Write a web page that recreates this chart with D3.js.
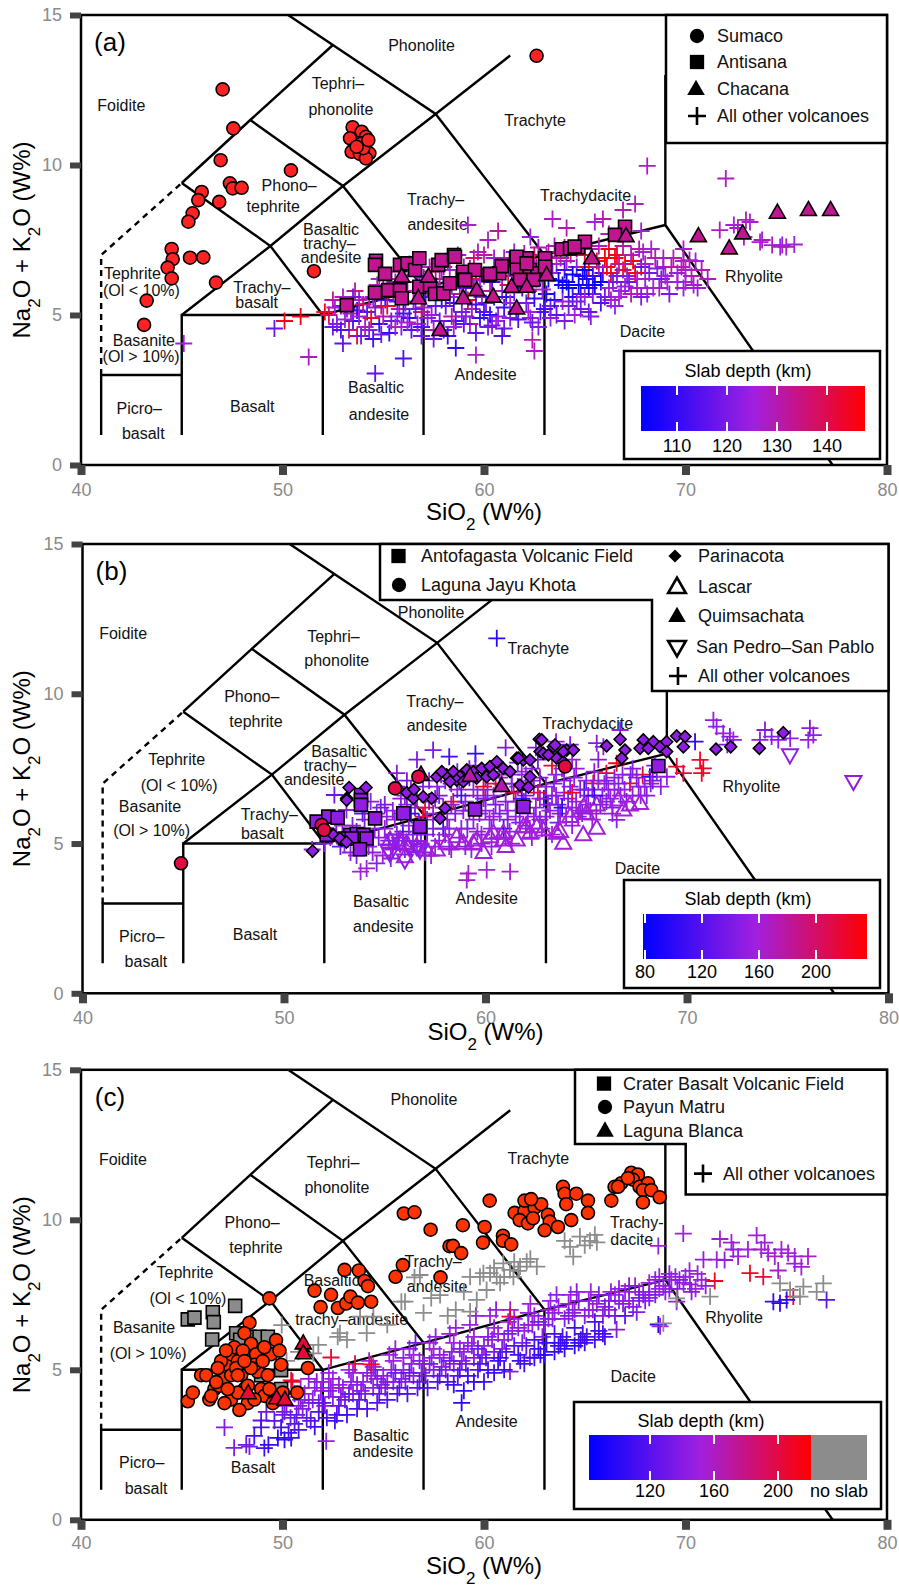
<!DOCTYPE html>
<html>
<head>
<meta charset="utf-8">
<script src="https://cdn.jsdelivr.net/npm/d3@7"></script>
<style>
  body { margin: 0; background: #fff; }
  svg { font-family: "Liberation Sans", Arial, Helvetica, sans-serif; }
</style>
</head>
<body>
<div class="chart"></div>
<script>
// ---------- data: [SiO2, Na2O+K2O, slab depth] ----------
var crossesA = [
  [45.1,4.05,126],[49.6,4.55,118],[50.1,4.8,145],[50.9,4.95,146],[51.3,3.6,128],[52.1,5.1,146],[52.5,4.6,118],[53.0,4.05,116],[53.7,4.3,142],[54.6,3.05,116],[56.0,3.55,114],
  [52.3,5.0,140],[52.7,4.7,122],[52.9,5.3,118],[52.5,5.5,132],
  [53.2,5.2,120],[53.5,4.8,112],[53.8,5.5,128],[53.3,4.5,135],[53.9,4.3,118],[53.6,5.8,132],
  [54.2,5.1,115],[54.5,5.6,125],[54.8,4.7,110],[54.3,4.5,122],[54.7,6.0,130],[54.9,5.3,138],[54.4,4.9,144],
  [55.1,5.5,112],[55.4,4.8,118],[55.6,6.1,126],[55.8,5.2,132],[55.3,4.4,110],[55.9,4.6,122],[55.5,5.8,140],[55.2,6.2,128],
  [56.1,5.4,120],[56.3,4.9,110],[56.6,5.8,130],[56.8,6.3,124],[56.4,4.5,115],[56.9,5.1,136],[56.2,6.1,118],[56.7,4.7,126],
  [57.1,5.6,112],[57.4,5.0,124],[57.6,6.2,133],[57.8,4.8,118],[57.3,6.6,128],[57.9,5.5,108],[57.5,4.5,130],[57.2,5.9,142],
  [58.1,5.3,116],[58.4,6.0,122],[58.6,4.8,112],[58.8,5.7,134],[58.3,6.5,128],[58.9,5.1,120],[58.5,4.6,126],[58.2,6.8,118],
  [59.1,5.9,114],[59.4,5.2,128],[59.6,6.4,120],[59.8,4.9,110],[59.3,4.7,132],[59.9,5.6,125],[59.5,6.9,136],[59.2,5.5,145],
  [60.1,5.4,118],[60.4,6.1,112],[60.6,4.8,126],[60.8,6.6,130],[60.3,5.0,108],[60.9,5.8,122],[60.5,6.9,124],[60.2,4.6,120],
  [61.1,5.6,110],[61.4,6.3,128],[61.6,5.1,116],[61.8,6.8,134],[61.3,4.9,122],[61.9,5.9,112],[61.5,7.1,126],[61.2,6.0,140],
  [62.1,5.4,120],[62.4,6.0,106],[62.6,6.6,130],[62.8,5.1,114],[62.3,4.9,124],[62.9,6.3,118],[62.5,7.0,138],[62.2,5.8,146],
  [63.1,5.7,108],[63.4,6.4,124],[63.6,5.0,116],[63.8,6.9,132],[63.3,5.3,120],[63.9,6.0,106],[63.5,7.3,128],[63.2,6.2,104],
  [64.1,6.1,105],[64.4,5.6,110],[64.6,6.6,122],[64.8,5.2,118],[64.3,7.0,136],[64.9,6.3,106],[64.5,5.0,126],[64.2,5.9,104],[64.7,6.0,104],
  [65.1,6.2,108],[65.4,5.7,120],[65.6,6.8,145],[65.8,5.4,114],[65.3,7.2,132],[65.9,6.4,112],[65.5,6.0,104],[65.2,6.6,146],
  [66.1,6.6,146],[66.4,6.1,118],[66.6,7.0,144],[66.8,5.8,124],[66.3,5.5,128],[66.9,6.5,140],[66.5,6.9,147],[66.2,7.2,145],
  [67.1,6.3,122],[67.4,6.8,146],[67.6,5.9,128],[67.8,6.6,116],[67.3,5.7,130],[67.9,7.1,126],
  [68.2,6.4,120],[68.5,6.9,130],[68.8,6.2,118],[68.4,5.9,126],[68.9,6.6,124],
  [69.3,6.6,132],[69.6,6.1,126],[69.9,6.8,128],[70.3,6.3,130],[70.6,5.9,124],[69.2,5.7,120],[69.9,7.2,128],[70.2,6.83,128],[70.5,6.8,126],[71.1,6.2,128],[69.9,5.9,124],
  [52.6,5.25,126],[52.9,4.5,114],[53.4,5.05,130],[53.7,5.15,110],[53.1,4.85,124],[54.0,5.35,136],[54.1,4.6,128],[54.6,5.25,120],[54.5,4.2,112],[55.0,5.85,124],
  [55.0,4.95,130],[55.7,5.45,116],[55.6,4.6,128],[55.2,5.3,142],[56.0,5.8,128],[56.0,5.05,112],[56.5,5.45,124],[56.5,6.6,130],[56.9,4.6,114],[57.0,6.25,120],
  [57.0,5.25,130],[57.6,5.3,116],[57.7,5.85,126],[57.4,6.45,136],[57.9,6.5,124],[58.0,4.5,118],[58.0,5.95,130],[58.5,5.4,110],[58.6,6.25,126],[58.7,7.0,130],
  [58.4,4.95,132],[59.0,6.6,124],[59.0,4.7,116],[59.5,5.95,118],[59.6,5.35,112],[59.7,7.1,128],[59.4,6.2,140],[60.0,6.3,126],[60.0,5.1,114],[60.0,7.0,132],
  [60.5,5.6,110],[60.6,6.5,136],[60.7,4.95,124],[61.0,6.9,128],[61.0,5.25,112],[61.2,6.6,122],[61.5,5.75,120],[61.7,6.55,124],[61.7,4.85,114],[62.0,7.05,130],
  [62.0,6.25,116],[62.2,5.1,126],[62.5,5.55,110],[62.6,6.2,122],[62.7,7.25,128],[63.0,6.6,118],[63.0,5.2,112],[63.2,7.1,132],[63.5,5.5,108],[63.6,6.7,126],
  [63.7,6.15,104],[64.0,6.5,112],[64.0,7.25,130],[64.2,5.3,120],[64.4,6.35,104],[64.6,7.2,134],[64.8,5.7,114],[65.0,6.5,104],[65.0,7.0,142],[65.2,5.9,106],
  [65.4,6.3,110],[65.7,7.3,128],[65.8,6.1,104],[66.0,6.9,147],[66.0,5.6,118],[66.3,6.4,144],[66.6,6.3,120],[66.7,5.6,126],[66.9,7.3,132],[67.0,6.7,145],
  [67.2,6.1,118],[67.5,6.4,146],[67.7,7.2,130],[68.0,6.2,124],[68.0,6.7,128],[68.3,7.2,126],[68.6,6.55,122],[68.7,5.9,128],[69.0,6.3,126],[69.4,6.9,130],
  [69.6,6.4,124],[70.0,6.5,128],[70.0,6.1,126],[70.8,6.5,130],[53.5,5.6,118],[54.8,6.2,126],[55.8,6.45,132],[56.3,6.7,128],
  [53.0,5.6,128],[53.8,4.95,124],[54.3,5.55,130],[54.9,4.35,118],[55.3,5.95,134],[55.7,4.95,122],[56.2,4.75,126],[56.6,5.2,118],[57.2,4.9,122],[57.8,6.2,130],
  [58.0,6.6,134],[58.3,5.6,124],[58.9,6.05,128],[59.1,4.95,122],[59.3,6.55,130],[59.8,6.15,126],[60.3,5.8,132],[60.4,4.65,120],[60.9,6.3,128],[61.3,5.4,126],
  [61.4,6.85,132],[61.9,6.2,124],[62.2,6.75,128],[62.4,4.75,118],[62.9,5.85,126],[63.1,6.95,130],[63.3,4.9,122],[63.9,5.45,124],[64.1,6.8,128],[64.6,5.45,120],
  [65.0,5.6,124],[65.3,4.95,122],[65.7,6.6,130],[66.2,5.9,126],[66.7,6.7,132],[67.0,5.95,124],[67.3,7.0,128],[67.6,6.2,126],[68.1,5.7,124],[68.9,6.9,128],
  [69.1,6.1,126],[69.8,6.6,130],[70.4,6.0,128],
  [56.9,4.3,118],[58.2,4.3,112],[59.6,4.4,116],[61.0,4.55,118],[62.7,4.6,122],[64.0,4.8,120],[65.2,5.1,118],[66.5,5.3,124],[67.8,5.6,120],
  [59.2,8.0,126],[60.7,7.8,132],[63.4,8.2,128],[65.5,8.1,126],[65.9,8.2,130],[67.5,8.7,128],[66.9,8.5,130],[68.1,9.97,128],[72.0,9.55,128],[60.2,7.5,128],[62.3,7.6,124],[64.1,7.9,130],[66.2,7.7,128],[67.8,7.8,126],
  [71.7,7.83,128],[72.4,8.0,126],[73.0,8.17,128],[73.7,7.43,126],[74.3,7.33,128],[74.8,7.33,124],[72.6,7.9,128],[73.2,8.1,126],[73.8,7.5,128],[74.7,7.27,126],[75.0,7.27,128],[75.4,7.35,126],[72.9,7.6,128],
  [59.6,3.67,128],[62.4,4.17,130],[62.5,3.8,128],[57.5,4.2,118],[60.9,4.3,114],[58.6,3.9,110]
];
var sumaco = [
  [47.03,12.52],[47.56,11.22],[46.93,10.16],[47.39,9.39],[47.53,9.22],[47.97,9.24],[45.99,9.1],[45.82,8.83],[46.86,8.77],[45.54,8.39],[45.33,8.11],[50.42,9.82],
  [44.5,7.2],[44.55,6.86],[44.3,6.58],[44.5,6.22],[45.41,6.91],[46.07,6.92],[46.7,6.08],[43.26,5.48],[43.13,4.67],[51.56,6.46],
  [53.48,11.26],[53.93,11.11],[54.14,10.94],[53.35,10.89],[53.93,10.72],[54.09,10.61],[53.51,10.5],[54.18,10.39],[54.31,10.39],[53.43,10.44],[53.84,10.37],[54.14,10.22],[54.01,10.56],[54.26,10.83],[53.68,10.61],
  [62.61,13.64]
];
var antisana = [
  [53.19,5.33],[54.59,5.74],[54.64,6.81],[54.59,6.67],[55.09,6.37],[55.25,5.83],[55.83,6.67],[55.83,5.83],[55.92,5.56],[56.2,6.72],[56.58,6.5],[56.79,6.89],[56.79,5.94],
  [57.32,6.0],[57.57,5.7],[57.73,6.67],[57.9,6.83],[57.98,5.72],[58.31,6.06],[58.51,7.0],[58.97,6.44],[59.02,6.17],[59.55,6.5],[60.21,6.33],[60.76,6.39],[60.88,6.63],
  [61.59,6.89],[61.62,6.56],[62.12,6.89],[62.28,6.5],[62.65,6.39],[63.03,6.89],[63.03,6.61],[63.86,7.19],[64.27,7.22],[64.68,7.26],[65.01,7.44],[61.79,6.17],[62.45,6.17],
  [67.0,7.94],[66.5,7.67],[64.5,7.28],[60.3,6.37],[61.62,6.94],[62.12,6.72],[59.06,6.17],[58.56,6.94]
];
var chacana = [
  [57.24,6.28],[57.82,4.5],[58.97,5.56],[59.64,5.83],[60.46,5.61],[61.37,5.94],[61.62,5.22],[62.12,5.94],[63.11,6.33],[65.35,6.89],[56.74,5.56],[55.92,6.28],[67.05,7.63],
  [70.64,7.63],[72.17,7.22],[72.84,7.72],[74.56,8.41],[76.1,8.5],[77.2,8.5]
];

var crossesB = [
  [51.4,4.8,150],[52.0,5.0,140],[52.5,6.62,130],[53.1,6.12,150],[54.1,4.17,155],[53.8,4.06,160],[54.6,4.34,150],[57.4,8.12,140],[55.6,7.35,145],[60.56,11.85,100],
  [59.15,4.0,165],[60.06,4.12,160],[61.22,4.06,160],[59.07,3.78,165],[56.6,7.8,140],[58.2,7.9,110],[59.5,8.0,100],[61.0,8.2,140],[63.5,8.4,150],
  [52.3,5.2,145],[52.8,4.9,130],[52.9,5.6,155],[53.3,4.7,150],[53.6,5.4,140],[53.9,6.0,120],
  [54.2,4.9,150],[54.5,5.5,145],[54.8,6.2,135],[54.3,6.4,150],[54.9,4.6,160],
  [55.2,5.1,140],[55.5,5.8,150],[55.8,6.5,145],[55.4,4.8,155],[55.9,5.4,115],[55.6,6.9,140],
  [56.2,5.6,150],[56.5,6.2,140],[56.8,5.0,145],[56.3,6.8,155],[56.9,5.9,215],[56.6,4.9,150],[56.1,7.1,140],
  [57.1,5.3,145],[57.4,6.0,150],[57.7,6.6,140],[57.2,7.1,150],[57.9,5.5,110],[57.5,4.9,155],[57.8,7.3,145],
  [58.1,5.8,150],[58.4,6.4,220],[58.7,5.2,145],[58.3,7.0,140],[58.9,6.1,150],[58.6,7.4,145],[58.2,4.9,150],
  [59.1,5.5,140],[59.4,6.8,150],[59.7,6.0,145],[59.2,7.2,110],[59.8,5.3,150],[59.5,7.6,140],[59.9,6.5,155],
  [60.2,5.8,150],[60.5,6.3,140],[60.8,7.0,145],[60.3,7.5,150],[60.9,5.5,100],[60.6,5.2,150],[60.1,6.8,145],
  [61.1,6.1,150],[61.4,6.7,215],[61.7,5.7,140],[61.3,7.3,150],[61.9,6.4,145],[61.6,7.7,140],[61.2,5.4,155],
  [62.1,6.0,150],[62.4,6.9,140],[62.7,5.8,145],[62.3,7.5,150],[62.9,6.5,100],[62.6,7.8,140],[62.2,5.5,150],
  [63.1,6.3,150],[63.4,7.0,145],[63.7,6.0,140],[63.3,7.6,220],[63.9,6.7,150],[63.6,5.7,145],
  [64.1,6.5,140],[64.4,7.2,150],[64.7,6.1,145],[64.3,7.8,150],[64.9,6.8,110],[64.6,5.9,150],
  [65.1,6.6,145],[65.4,7.4,150],[65.7,6.3,140],[65.35,7.01,220],[65.9,7.0,150],[65.6,7.8,145],
  [66.1,6.8,150],[66.51,7.68,225],[66.0,7.35,220],[66.4,7.2,145],[66.7,6.6,150],[66.51,5.79,150],[66.3,6.2,145],
  [67.17,7.01,225],[67.3,7.5,145],[67.6,6.9,150],[67.0,6.4,140],[67.8,7.3,215],
  [68.16,7.23,95],[69.0,7.23,150],[68.4,7.6,145],[68.7,6.9,150],[68.0,6.6,145],
  [52.2,5.5,150],[52.6,5.3,145],[53.0,5.0,150],[53.4,5.6,145],[53.6,4.6,150],[54.0,5.2,150],[54.0,5.8,140],[54.4,4.7,150],[54.6,6.0,150],[54.7,5.2,145],
  [55.0,5.5,150],[55.0,6.3,140],[55.3,4.5,150],[55.4,6.1,150],[55.7,5.1,145],[55.8,6.0,150],[56.0,6.6,150],[56.0,4.8,150],[56.4,5.3,145],[56.6,6.5,150],
  [56.7,5.7,140],[56.9,6.9,145],[57.0,4.7,150],[57.2,6.4,150],[57.4,5.5,140],[57.6,6.9,150],[57.7,5.1,150],[57.9,6.2,145],[58.0,7.1,150],[58.2,5.5,150],
  [58.5,6.0,140],[58.6,6.8,150],[58.8,5.5,150],[59.0,4.9,145],[59.0,6.4,150],[59.2,7.5,140],[59.4,5.8,150],[59.6,6.6,145],[59.8,5.0,150],[60.0,7.2,150],
  [60.0,6.1,150],[60.3,5.5,145],[60.4,6.6,150],[60.7,6.0,140],[60.8,7.4,150],[61.0,5.2,150],[61.0,6.4,145],[61.3,7.0,150],[61.5,5.9,150],[61.6,6.9,145],
  [61.8,7.4,150],[62.0,5.6,150],[62.0,6.6,140],[62.3,7.1,150],[62.5,6.2,150],[62.7,7.2,145],[62.8,5.5,150],[63.0,6.9,150],[63.0,5.9,145],[63.3,6.6,150],
  [63.5,7.3,150],[63.6,6.3,140],[63.9,7.1,150],[64.0,5.9,150],[64.2,6.9,145],[64.5,6.4,150],[64.5,7.5,150],[64.8,6.0,140],[65.0,7.1,150],[65.0,6.3,150],
  [65.3,6.8,145],[65.5,6.0,150],[65.8,6.6,150],[66.0,7.1,140],[66.2,6.5,150],[66.6,7.0,145],[66.9,6.8,150],[67.3,6.6,150],[67.5,7.2,145],[67.9,6.9,150],
  [68.3,7.1,140],[68.5,7.4,150],[57.0,6.2,215],[59.9,6.9,220],[62.6,6.7,215],[64.3,6.7,225],[63.8,6.2,100],[61.8,6.5,105],[58.8,6.6,110],[56.3,6.0,100],
  [65.4,6.6,100],[60.5,7.0,215],
  [55.1,5.9,150],[55.6,5.3,150],[56.1,6.3,145],[56.6,5.4,150],[57.1,5.8,150],[57.5,6.5,145],[58.0,5.3,150],[58.3,6.3,150],[58.7,7.1,145],[59.2,6.1,150],
  [59.6,5.4,150],[60.0,6.5,145],[60.4,5.9,150],[60.7,7.2,150],[61.1,5.8,145],[61.5,6.4,150],[62.0,7.3,150],[62.4,5.9,145],[62.7,6.5,150],[63.2,6.1,150],
  [63.5,6.6,145],[63.8,7.5,150],[64.3,6.2,150],[64.7,6.8,145],[65.2,6.1,150],[65.6,7.1,150],[66.0,6.4,145],[66.4,6.8,150],[66.8,7.3,150],[67.2,7.3,145],
  [67.7,6.6,150],[68.2,7.0,150],
  [57.3,4.6,155],[58.3,4.8,150],[59.3,4.8,155],[60.3,4.9,150],[61.3,5.0,155],[62.3,5.2,150],[63.3,5.3,155],[64.3,5.6,150],[65.3,5.8,155],[66.3,6.0,150],
  [70.65,7.79,225],[70.81,7.51,220],[70.73,7.35,225],[69.49,7.57,220],[69.82,7.35,215],[70.4,8.4,100],
  [65.85,8.23,150],[66.68,8.79,150],[65.52,8.35,145],[64.2,8.3,140],[62.5,8.2,145],
  [71.31,9.12,150],[71.47,8.9,150],[72.13,8.57,145],[71.8,8.68,150],[72.3,8.46,150],[73.87,8.79,145],[74.2,8.57,150],[73.62,8.46,150],[74.53,8.46,145],[75.12,8.51,150],[76.1,8.85,145],[76.27,8.62,150],[76.02,8.46,150],[72.0,8.3,140]
];
var antofagasta = [
  [53.82,6.62],[53.82,6.45],[53.82,6.29],[51.62,5.73],[52.2,5.9],[52.66,5.86],[54.52,5.84],[55.92,6.01],[56.75,5.56],[53.28,5.29],[53.61,5.32],[53.94,5.29],
  [53.03,5.17],[53.36,5.17],[54.1,5.17],[53.77,4.81],[52.12,5.29],[59.48,6.14],[61.88,6.23],[68.58,7.59]
];
var lagunaJayu = [[44.89,4.34],[51.87,5.62],[51.99,5.45],[55.51,6.84],[56.67,7.23],[63.95,7.57]];
var parinacota = [
  [51.42,4.75],[53.23,6.87],[53.11,6.51],[54.07,6.87],[56.09,6.7],[56.42,6.51],[57.33,6.51],[57.74,5.84],[52.86,5.12],[53.11,6.45],[56.45,6.81],[57.99,6.18],[56.91,6.56],
  [57.58,7.23],[58.07,7.29],[58.4,7.4],[58.73,7.23],[59.07,7.46],[59.4,7.4],[59.81,7.51],[60.22,7.57],[60.56,7.73],[60.88,7.51],[61.22,7.4],[57.83,7.4],[58.57,7.12],[58.9,7.07],[58.24,7.07],[59.56,7.18],[60.06,7.23],[60.39,7.29],
  [61.55,7.85],[61.88,7.79],[62.67,8.48],[62.71,8.07],[63.37,8.23],[63.53,7.85],[61.71,6.95],[62.13,6.88],[62.21,7.23],[62.87,8.01],[64.03,8.12],[63.86,7.73],
  [62.79,8.46],[63.45,8.29],[63.86,8.07],[64.36,8.12],[63.12,7.96],[66.01,8.26],[66.68,8.48],[66.92,8.12],[66.76,7.85],[67.83,8.46],[68.33,8.4],[68.66,8.23],[67.67,8.18],[68.08,8.18],
  [68.99,8.4],[68.99,8.07],[69.49,8.59],[69.9,8.57],[69.82,8.23],[71.44,8.15],[72.17,8.23],[73.59,8.18],[74.78,8.7],[61.63,7.85],[62.21,7.79],[52.45,5.29],[52.78,5.17],[53.1,5.05]
];
var lascar = [
  [55.26,5.12],[55.76,5.12],[56.0,4.56],[56.09,5.01],[56.58,4.9],[57.08,4.78],[57.58,4.78],[58.07,5.01],[58.9,5.01],[59.56,5.12],[60.22,5.23],[60.88,5.34],[61.88,5.56],[62.54,5.56],
  [63.53,5.34],[63.86,5.01],[64.87,6.23],[65.52,6.29],[66.59,6.45],[67.17,6.29],[67.67,6.34],[66.84,6.12],[60.88,5.12],[61.55,5.12],[63.7,5.4],[64.85,5.29],[65.52,5.51],
  [62.21,5.34],[62.87,5.45],[60.39,5.34],[62.04,5.56],[59.39,5.01],[58.57,5.23],[64.2,5.9],[65.0,6.0],[61.0,4.9],[59.9,4.7]
];
var quimsachata = [[56.8,7.3],[59.23,7.26],[60.8,6.92]];
var sanPedro = [[55.43,5.12],[55.76,5.01],[56.0,4.45],[56.25,4.9],[55.26,4.67],[56.75,4.78],[55.18,4.78],[56.58,4.9],[75.11,7.96],[78.26,7.07]];

// depth null = no slab (grey)
var crossesC = [
  [47.12,3.08,140],[48.2,2.5,130],[48.36,2.44,135],[49.1,2.39,110],[48.94,3.31,120],[48.94,3.08,115],[49.77,2.73,100],[50.1,2.67,100],[50.43,2.73,105],[52.17,2.62,145],[49.93,3.08,110],[47.6,2.4,140],
  [48.6,2.8,110],[49.3,2.5,105],[49.6,3.3,120],[50.3,2.9,110],[50.8,3.0,115],[49.2,3.6,130],[50.1,3.6,135],
  [50.0,3.5,130],[50.3,4.1,140],[50.6,3.2,120],[50.8,3.8,145],[50.5,4.6,200],[50.9,4.4,150],
  [51.2,3.4,125],[51.5,4.0,140],[51.8,3.6,115],[51.3,4.7,145],[51.9,4.3,150],[51.6,3.1,110],
  [52.1,3.8,135],[52.4,4.4,145],[52.7,3.5,120],[52.3,4.9,150],[52.9,4.1,140],[52.6,3.3,110],
  [53.1,4.0,130],[53.4,4.6,145],[53.7,3.7,115],[53.3,5.0,150],[53.9,4.3,140],[53.6,5.2,200],
  [54.1,4.2,135],[54.4,4.8,145],[54.7,3.9,120],[54.3,5.3,150],[54.9,4.5,140],[54.6,5.0,130],
  [55.1,4.4,130],[55.4,5.0,145],[55.7,4.2,115],[55.3,5.5,150],[55.9,4.7,140],[55.6,5.7,145],
  [56.1,4.6,135],[56.4,5.2,145],[56.7,4.4,120],[56.3,5.7,150],[56.9,4.9,140],[56.6,5.9,130],
  [57.1,4.8,130],[57.4,5.4,145],[57.7,4.6,115],[57.3,5.9,150],[57.9,5.1,140],[57.6,6.1,145],
  [58.1,5.0,135],[58.4,5.6,145],[58.7,4.8,120],[58.3,6.2,150],[58.9,5.3,140],[58.6,6.4,145],[58.89,3.9,100],
  [59.1,5.2,130],[59.4,5.8,145],[59.7,5.0,115],[59.3,6.5,150],[59.9,5.5,140],[59.6,6.8,145],
  [60.1,5.4,120],[60.4,6.0,145],[60.7,5.3,110],[60.3,6.8,150],[60.9,5.7,140],[60.6,7.0,145],
  [61.1,5.6,115],[61.4,6.3,145],[61.7,5.5,110],[61.3,7.0,150],[61.9,5.9,140],[61.29,6.77,210],[61.29,4.94,140],
  [62.1,5.8,120],[62.4,6.5,145],[62.7,5.7,110],[62.3,7.2,150],[62.9,6.1,140],[62.28,5.41,140],
  [63.1,5.9,105],[63.4,6.7,145],[63.7,5.8,110],[63.3,7.3,150],[63.9,6.1,115],[63.6,7.5,145],
  [64.1,6.0,110],[64.4,6.9,145],[64.7,5.9,115],[64.3,7.5,150],[64.9,6.2,110],[64.6,7.6,140],
  [65.1,6.1,115],[65.4,7.0,145],[65.7,6.3,110],[65.3,7.6,150],[65.9,6.8,140],
  [66.2,7.0,145],[66.58,6.34,140],[66.5,7.5,150],[66.9,7.2,140],
  [67.2,7.3,145],[67.58,6.92,140],[67.5,7.8,150],[67.9,7.5,140],
  [68.2,7.6,145],[68.65,6.51,100],[68.74,6.45,150],[68.5,8.0,140],[68.9,7.8,145],
  [69.2,7.7,140],[69.56,7.27,150],[69.5,8.1,145],[69.9,7.9,150],[70.22,7.85,145],[70.5,7.7,150],[70.8,8.0,145],
  [50.2,3.8,135],[50.6,4.2,140],[50.7,3.5,125],[51.0,3.7,140],[51.1,4.2,145],[51.4,3.3,120],[51.7,4.6,140],[51.8,3.9,130],[52.0,4.6,145],[52.2,3.4,115],
  [52.5,4.1,140],[52.5,4.7,150],[52.8,3.8,125],[53.0,4.4,145],[53.2,3.5,110],[53.5,4.2,140],[53.5,4.9,145],[53.8,4.0,120],[54.0,4.6,145],[54.2,3.7,115],
  [54.5,4.4,140],[54.5,5.1,150],[54.8,4.2,125],[55.0,4.8,145],[55.2,4.0,115],[55.5,4.6,140],[55.5,5.3,150],[55.8,4.4,120],[56.0,5.0,145],[56.2,4.2,115],
  [56.5,4.8,140],[56.5,5.5,150],[56.8,4.6,125],[57.0,5.2,145],[57.2,4.4,115],[57.5,5.0,140],[57.5,5.7,150],[57.8,4.8,120],[58.0,5.4,145],[58.2,4.6,115],
  [58.5,5.2,140],[58.5,5.9,150],[58.8,5.0,120],[59.0,5.6,145],[59.2,4.8,110],[59.5,5.4,140],[59.5,6.1,150],[59.8,5.2,115],[60.0,5.8,145],[60.2,5.0,110],
  [60.5,5.6,135],[60.5,6.4,150],[60.8,5.4,110],[61.0,6.0,145],[61.2,6.6,150],[61.5,5.8,120],[61.5,6.7,145],[61.8,5.3,110],[62.0,6.3,145],[62.2,6.9,150],
  [62.5,6.0,115],[62.5,6.8,145],[62.8,5.5,110],[63.0,6.5,140],[63.2,7.0,150],[63.5,6.2,110],[63.5,6.9,145],[63.8,5.9,105],[64.0,6.7,140],[64.2,7.2,150],
  [64.5,6.4,110],[64.5,7.0,145],[64.8,6.0,110],[65.0,6.8,140],[65.2,7.3,150],[65.5,6.6,115],[65.6,7.2,145],[65.9,6.2,110],[66.0,7.1,140],[66.3,7.6,150],
  [66.5,6.8,130],[66.7,7.3,145],[67.0,6.8,120],[67.0,7.6,150],[67.4,7.1,140],[67.7,7.6,145],[68.0,7.3,140],[68.2,7.9,150],[68.5,7.5,135],[68.7,8.1,145],
  [69.0,7.6,140],[69.3,8.0,150],[69.6,7.7,140],[70.0,8.1,145],[70.3,7.6,140],[70.6,8.2,150],[71.0,7.8,145],
  [50.4,3.4,130],[50.9,4.0,140],[51.3,3.9,135],[51.6,4.4,145],[52.0,3.9,125],[52.3,4.3,140],[52.8,4.5,145],[53.3,4.2,130],[53.7,4.5,140],[54.2,4.9,145],
  [54.7,4.7,135],[55.2,4.6,140],[55.6,4.9,130],[56.0,5.4,145],[56.3,4.9,125],[56.8,5.3,140],[57.3,5.2,135],[57.8,5.5,145],[58.3,5.3,130],[58.8,5.7,140],
  [59.2,5.9,145],[59.7,5.7,130],[60.2,6.1,140],[60.7,6.2,145],[61.2,6.2,135],[61.7,6.4,140],[62.2,6.5,145],[62.7,6.6,135],[63.2,6.7,140],[63.7,7.1,145],
  [64.2,6.8,135],[64.7,7.3,140],[65.2,7.0,145],[65.7,7.5,140],[66.2,7.3,135],[66.7,7.7,145],[67.2,7.8,140],[67.7,7.4,135],[68.2,7.4,140],[68.7,7.7,150],
  [69.2,8.2,145],[69.7,8.0,140],[70.2,8.3,150],
  [63.5,5.6,105],[64.5,5.8,100],[65.5,6.0,110],[62.5,5.4,105],[60.5,4.9,110],[59.5,4.6,105],
  [58.5,4.5,110],[59.0,4.3,105],[60.0,4.6,110],[61.0,5.0,105],[62.0,5.2,110],[63.0,5.5,105],[64.0,5.7,105],[65.0,5.9,110],[66.0,6.1,115],
  [68.65,9.13,150],[69.89,9.54,150],[70.89,8.67,145],[71.55,8.67,150],[72.37,9.01,150],[71.71,9.36,155],[73.53,9.48,150],
  [72.28,9.24,155],[73.1,9.01,150],[73.76,9.01,155],[74.1,8.89,150],[74.43,8.78,155],[74.76,9.01,150],[75.09,8.89,155],[75.42,8.78,150],[75.75,8.43,155],[75.42,8.54,150],[76.08,8.78,155],[73.93,9.24,150],[72.61,8.78,150],[71.94,8.66,145],[74.6,8.31,155],
  [71.45,7.96,210],[73.2,8.22,210],[73.86,8.1,205],[75.35,7.44,210],[50.43,4.65,210],[52.41,5.41,205],[54.4,5.18,210],
  [74.69,7.22,100],[74.36,7.27,105],[75.02,7.33,100],[77.0,7.33,120],
  [49.96,6.49,null],[51.78,5.83,null],[52.85,6.22,null],[51.53,5.55,null],[53.85,6.77,null],[54.18,6.22,null],[54.51,6.77,null],[56.08,7.27,null],[56.82,8.16,null],[57.82,7.49,null],[59.97,8.22,null],[59.31,6.94,null],
  [64.27,9.1,null],[64.76,9.44,null],[65.26,9.3,null],[65.6,9.25,null],[65.0,9.15,null],[64.43,8.77,null],[60.96,8.55,null],[61.29,8.33,null],[61.79,8.44,null],[62.12,8.6,null],[61.46,8.1,null],[60.63,8.1,null],
  [60.3,8.22,null],[59.8,8.1,null],[62.62,8.44,null],[59.31,8.1,null],[60.13,7.66,null],[59.64,7.33,null],
  [60.5,8.4,null],[61.0,8.1,null],[61.7,8.3,null],[62.3,8.7,null],[61.5,8.6,null],[60.8,7.9,null],[58.6,7.0,null],[59.0,7.6,null],[58.2,6.8,null],[57.0,6.9,null],[55.2,6.5,null],[53.2,6.0,null],[50.8,5.6,null],[65.5,9.5,null],[64.0,9.3,null],
  [74.69,7.88,null],[75.19,7.66,null],[75.85,7.77,null],[76.51,7.6,null],[76.84,7.88,null],[75.68,7.44,null],[71.22,7.44,null],[69.56,7.38,null],[68.9,6.55,null],
  [49.0,4.9,null],[49.5,5.6,null],[50.2,5.3,null],[48.6,5.2,null],[52.74,6.1,null],[55.9,7.27,null],[57.38,7.39,null],[56.55,8.08,null]
];
var craterBasalt = [
  [45.3,6.68],[45.63,6.74],[46.54,6.92],[46.59,6.59],[47.65,7.13],[46.51,6.01],[47.7,6.22],[48.36,6.1],[48.86,6.1],[49.27,6.1],[49.93,4.99],[48.77,5.52],[48.94,4.82],[49.93,4.36],[47.9,6.0],[48.1,5.6]
];
var payunMatru = [
  [45.3,3.95],[45.55,4.24],[45.96,4.82],[46.21,4.82],[46.37,4.01],[46.62,4.36],[46.87,4.47],[47.12,4.71],[47.28,5.17],[47.45,5.52],[47.61,5.75],[47.78,5.29],[47.95,4.82],[48.11,4.36],[48.28,3.89],
  [48.36,6.57],[48.11,6.22],[48.44,5.87],[48.69,5.52],[48.77,4.94],[48.94,4.36],[49.1,4.13],[49.27,4.82],[49.44,5.52],[49.68,5.99],[49.85,5.64],[49.93,5.17],[50.01,4.24],[49.6,4.01],
  [47.86,3.66],[47.45,4.01],[46.95,5.29],[46.71,4.59],[47.45,4.82],[47.7,5.06],[48.03,5.64],[48.61,5.17],[49.02,5.29],[49.1,5.75],[48.44,5.06],[47.78,4.24],[47.12,3.89],[46.46,4.13],
  [47.28,4.36],[48.28,4.47],[48.61,4.01],[49.35,4.36],[49.52,3.89],[47.78,4.82],[48.11,5.29],[46.79,5.06],[47.2,5.64],[50.73,4.24],[51.26,5.06],[49.35,7.38],
  [51.59,7.64],[51.89,7.09],[52.41,7.5],[52.75,7.06],[53.16,7.21],[53.37,7.44],[53.74,7.24],[54.4,7.27],[53.08,8.33],[53.79,8.31],[54.07,7.96],[54.24,7.79],
  [56.02,10.21],[56.55,10.25],[57.35,9.67],[58.29,9.12],[55.97,8.49],[55.61,8.1],[57.84,8.08],
  [60.28,10.64],[58.95,9.82],[58.46,9.13],[58.87,8.89],[60.03,9.76],[59.95,9.24],[60.94,9.47],[60.94,9.3],[61.35,9.18],
  [61.52,10.23],[62.01,10.29],[61.77,9.99],[62.18,9.88],[62.51,10.4],[62.84,10.52],[63.17,10.17],[63.26,9.94],[63.67,9.76],[63.01,9.65],[62.43,10.05],[62.01,10.64],[62.34,10.69],
  [63.92,11.1],[64.0,10.87],[64.58,10.87],[65.16,10.64],[65.16,10.23],[64.08,10.52],[64.33,9.99],
  [66.32,10.64],[66.48,11.1],[66.81,11.22],[67.31,11.57],[67.64,11.51],[67.39,11.34],[67.72,11.1],[68.14,11.22],[67.89,10.99],[68.3,10.99],[68.72,10.75],[67.89,10.58],[67.14,11.39],[66.65,11.1]
];
var lagunaBlanca = [[51.03,5.88],[51.03,5.55],[49.71,4.05],[50.12,4.0],[48.3,4.22]];

// TAS field boundaries (SiO2, Na2O+K2O)
var tasSolid = [
  [[41,1],[41,3],[45,3]],
  [[45,1],[45,5],[52,5]],
  [[52,1],[52,5],[57,5.9],[63,7],[69,8]],
  [[57,1],[57,5.9]],
  [[63,1],[63,7]],
  [[45,5],[49.4,7.3],[53,9.3],[57.6,11.7],[61.3,13.65]],
  [[45,9.4],[48.4,11.5],[52.5,14]],
  [[50.28,15],[52.5,14],[57.6,11.7],[63,7]],
  [[48.4,11.5],[53,9.3],[57,5.9]],
  [[45,9.4],[49.4,7.3],[52,5]],
  [[69,13],[69,8],[77.3,0]]
];
var tasDashed = [[41,3],[41,7],[45,9.4]];

var labelsA = [
  ['Foidite',42.0,12.0],['Phonolite',56.9,14.0],['Tephri–',52.75,12.73],['phonolite',52.9,11.87],
  ['Phono–',50.33,9.31],['tephrite',49.54,8.63],['Basaltic',52.41,7.86],['trachy–',52.33,7.39],['andesite',52.41,6.92],
  ['Trachy–',48.97,5.92],['basalt',48.72,5.41],['Tephrite',42.55,6.39],['(Ol < 10%)',43.0,5.83],
  ['Basanite',43.12,4.17],['(Ol > 10%)',42.98,3.63],['Picro–',42.89,1.89],['basalt',43.09,1.06],
  ['Basalt',48.5,1.97],['Basaltic',54.64,2.58],['andesite',54.79,1.69],['Andesite',60.08,3.03],
  ['Dacite',67.86,4.47],['Rhyolite',73.4,6.3],['Trachydacite',65.04,9.0],['Trachy–',57.6,8.86],['andesite',57.7,8.03],
  ['Trachyte',62.53,11.5]
];
var labelsB = [
  ['Foidite',42.02,12.0],['Phonolite',57.3,12.73],['Tephri–',52.45,11.93],['phonolite',52.62,11.1],
  ['Phono–',48.4,9.91],['tephrite',48.61,9.09],['Tephrite',44.67,7.8],['(Ol < 10%)',44.8,6.95],
  ['Basanite',43.35,6.25],['(Ol > 10%)',43.43,5.43],['Basaltic',52.74,8.09],['trachy–',52.28,7.61],['andesite',51.5,7.13],
  ['Trachy–',49.27,5.96],['basalt',48.92,5.35],['Picro–',42.94,1.89],['basalt',43.15,1.06],['Basalt',48.56,1.98],
  ['Basaltic',54.81,3.08],['andesite',54.93,2.24],['Andesite',60.06,3.17],['Dacite',67.54,4.17],['Rhyolite',73.2,6.9],
  ['Trachydacite',65.07,9.0],['Trachy–',57.49,9.74],['andesite',57.59,8.93],['Trachyte',62.62,11.5]
];
var labelsC = [
  ['Foidite',42.08,12.02],['Phonolite',57.02,14.02],['Tephri–',52.51,11.93],['phonolite',52.7,11.07],
  ['Phono–',48.49,9.93],['tephrite',48.68,9.07],['Tephrite',45.16,8.26],['(Ol < 10%)',45.31,7.39],
  ['Basanite',43.13,6.4],['(Ol > 10%)',43.33,5.55],['Basaltic',52.44,7.97],['trachy–andesite',53.43,6.69],
  ['Trachy–',57.47,8.61],['andesite',57.67,7.77],['Picro–',43.01,1.9],['basalt',43.23,1.05],['Basalt',48.54,1.75],
  ['Basaltic',54.89,2.82],['andesite',54.99,2.27],['Trachyte',62.7,12.06],['Trachy-',67.58,9.92],['dacite',67.33,9.34],
  ['Rhyolite',72.41,6.75],['Dacite',67.4,4.79],['Andesite',60.13,3.29]
];

var xTicks = [40, 50, 60, 70, 80];
var yTicks = [0, 5, 10, 15];
var depthTicksA = [110, 120, 130, 140];
var depthTicksB = [80, 120, 160, 200];
var depthTicksC = [120, 160, 200];

// ---------- drawing ----------
var svg = d3.select('.chart')
  .append('svg')
    .attr('width', 899)
    .attr('height', 1587);
var defs = svg.append('defs');

var symbols = {
  circle: 'M6.5,0A6.5,6.5,0,1,1,-6.5,0A6.5,6.5,0,1,1,6.5,0Z',
  square: 'M-6.5,-6.5H6.5V6.5H-6.5Z',
  triangle: 'M0,-8.5L8,5.5L-8,5.5Z',
  triangleDown: 'M0,8.5L8,-5.5L-8,-5.5Z',
  diamond: 'M0,-6L6,0L0,6L-6,0Z',
  cross: 'M-8.5,0H8.5M0,-8.5V8.5'
};

function drawPanel(p) {
  var x = d3.scaleLinear().domain([40, 80]).range([p.left, p.right]);
  var y = d3.scaleLinear().domain([0, 15]).range([p.bottom, p.top]);
  var color = d3.scaleLinear()
    .domain([p.dmin, (p.dmin + p.dmax) / 2, p.dmax])
    .range(['#0000ff', '#a020e0', '#ff0000']);
  var depthColor = function(d) { return d == null ? '#8c8c8c' : color(d); };

  var g = svg.append('g');
  defs.append('clipPath').attr('id', 'clip-' + p.key)
    .append('rect')
      .attr('x', p.left).attr('y', p.top)
      .attr('width', p.right - p.left).attr('height', p.bottom - p.top);
  var plot = g.append('g').attr('clip-path', 'url(#clip-' + p.key + ')');

  var line = d3.line().x(d => x(d[0])).y(d => y(d[1]));
  plot.selectAll('path.tas')
    .data(tasSolid)
    .enter().append('path')
      .attr('d', line)
      .attr('fill', 'none').attr('stroke', '#000').attr('stroke-width', 2.4);
  plot.append('path')
    .attr('d', line(tasDashed))
    .attr('fill', 'none').attr('stroke', '#000').attr('stroke-width', 2.4)
    .attr('stroke-dasharray', '6,5');

  plot.selectAll('text.region')
    .data(p.labels)
    .enter().append('text')
      .attr('x', d => x(d[1])).attr('y', d => y(d[2]))
      .attr('text-anchor', 'middle').attr('dy', '0.35em')
      .attr('font-size', 16).attr('fill', '#111')
      .text(d => d[0]);

  plot.selectAll('path.cross')
    .data(p.crosses)
    .enter().append('path')
      .attr('d', symbols.cross)
      .attr('transform', d => 'translate(' + x(d[0]) + ',' + y(d[1]) + ')')
      .attr('fill', 'none').attr('stroke', d => depthColor(d[2]))
      .attr('stroke-width', 1.8);

  p.series.forEach(function(s) {
    var fill = s.fill || depthColor(s.depth);
    plot.selectAll(null)
      .data(s.pts)
      .enter().append('path')
        .attr('d', symbols[s.sym])
        .attr('transform', d => 'translate(' + x(d[0]) + ',' + y(d[1]) + ')')
        .attr('fill', s.hollow ? 'none' : fill)
        .attr('stroke', s.hollow ? fill : '#000')
        .attr('stroke-width', s.hollow ? 2 : 1.6);
  });

  // frame
  g.append('rect')
    .attr('x', p.left).attr('y', p.top)
    .attr('width', p.right - p.left).attr('height', p.bottom - p.top)
    .attr('fill', 'none').attr('stroke', '#000').attr('stroke-width', 2.5);

  // axes
  var yAxis = g.append('g')
    .attr('transform', 'translate(' + p.left + ',0)')
    .call(d3.axisLeft(y).tickValues(yTicks).tickSize(11).tickPadding(8));
  var xAxis = g.append('g')
    .attr('transform', 'translate(0,' + p.bottom + ')')
    .call(d3.axisBottom(x).tickValues(xTicks).tickSize(10).tickPadding(p.xPad));
  [yAxis, xAxis].forEach(function(a) {
    a.select('.domain').remove();
    a.attr('font-family', null).attr('font-size', 18);
    a.selectAll('text').attr('fill', '#8a8a8a');
  });
  yAxis.selectAll('line').attr('stroke', '#444').attr('stroke-width', 6);
  xAxis.selectAll('line').attr('stroke', '#444').attr('stroke-width', 8);

  // axis titles
  var mid = (p.top + p.bottom) / 2;
  var yt = g.append('text')
    .attr('transform', 'translate(22,' + mid + ') rotate(-90)')
    .attr('text-anchor', 'middle').attr('dy', '0.35em').attr('font-size', 24);
  [['Na'], ['2', 1], ['O + K'], ['2', 1], ['O (W%)']].forEach(function(t) {
    var s = yt.append('tspan').text(t[0]);
    if (t[1]) s.attr('baseline-shift', 'sub').attr('font-size', 17);
  });
  var xt = g.append('text')
    .attr('x', (p.left + p.right) / 2).attr('y', p.xTitleY)
    .attr('text-anchor', 'middle').attr('dy', '0.35em').attr('font-size', 24);
  [['SiO'], ['2', 1], [' (W%)']].forEach(function(t) {
    var s = xt.append('tspan').text(t[0]);
    if (t[1]) s.attr('baseline-shift', 'sub').attr('font-size', 17);
  });

  g.append('text')
    .attr('x', p.left + 29).attr('y', p.top + 27)
    .attr('text-anchor', 'middle').attr('dy', '0.35em').attr('font-size', 26)
    .text(p.letter);

  // symbol legend
  g.append('path')
    .attr('d', d3.line()(p.legendBox) + 'Z')
    .attr('fill', '#fff').attr('stroke', '#000').attr('stroke-width', 2.5);
  p.legend.forEach(function(l) {
    g.append('path')
      .attr('d', l.sym == 'cross' ? 'M-9,0H9M0,-9V9' : symbols[l.sym])
      .attr('transform', 'translate(' + l.sx + ',' + l.y + ') scale(' + (l.sym == 'cross' ? 1 : 1.1) + ')')
      .attr('fill', (l.hollow || l.sym == 'cross') ? 'none' : '#000')
      .attr('stroke', '#000').attr('stroke-width', l.sym == 'cross' ? 2.6 : (l.hollow ? 2.4 : 0));
    g.append('text')
      .attr('x', l.tx).attr('y', l.y).attr('dy', '0.35em')
      .attr('font-size', 18).attr('fill', '#111')
      .text(l.text);
  });

  // colour bar
  var cb = p.cbar;
  g.append('rect')
    .attr('x', cb.box[0]).attr('y', cb.box[1])
    .attr('width', cb.box[2] - cb.box[0]).attr('height', cb.box[3] - cb.box[1])
    .attr('fill', '#fff').attr('stroke', '#000').attr('stroke-width', 2.5);
  var grad = defs.append('linearGradient').attr('id', 'grad-' + p.key);
  d3.range(0, 1.0001, 0.1).forEach(function(t) {
    grad.append('stop')
      .attr('offset', (t * 100) + '%')
      .attr('stop-color', color(p.dmin + t * (p.dmax - p.dmin)));
  });
  var cx = d3.scaleLinear().domain([p.dmin, p.dmax]).range([cb.bar[0], cb.bar[1]]);
  g.append('rect')
    .attr('x', cb.bar[0]).attr('y', cb.bar[2])
    .attr('width', cb.bar[1] - cb.bar[0]).attr('height', cb.bar[3] - cb.bar[2])
    .attr('fill', 'url(#grad-' + p.key + ')');
  if (cb.noSlab) {
    g.append('rect')
      .attr('x', cb.bar[1]).attr('y', cb.bar[2])
      .attr('width', cb.noSlab - cb.bar[1]).attr('height', cb.bar[3] - cb.bar[2])
      .attr('fill', '#8c8c8c');
    g.append('text')
      .attr('x', (cb.bar[1] + cb.noSlab) / 2).attr('y', cb.labelY)
      .attr('text-anchor', 'middle').attr('dy', '0.35em').attr('font-size', 18)
      .text('no slab');
  }
  var th = (cb.bar[3] - cb.bar[2]) * 0.2;
  cb.ticks.forEach(function(t) {
    [[cb.bar[2], cb.bar[2] + th], [cb.bar[3] - th, cb.bar[3]]].forEach(function(seg) {
      g.append('line')
        .attr('x1', cx(t)).attr('x2', cx(t)).attr('y1', seg[0]).attr('y2', seg[1])
        .attr('stroke', '#fff').attr('stroke-width', 2);
    });
    g.append('text')
      .attr('x', cx(t)).attr('y', cb.labelY)
      .attr('text-anchor', 'middle').attr('dy', '0.35em').attr('font-size', 18)
      .text(t);
  });
  g.append('text')
    .attr('x', cb.titleX).attr('y', cb.titleY)
    .attr('text-anchor', 'middle').attr('dy', '0.35em').attr('font-size', 18)
    .text('Slab depth (km)');
}

drawPanel({
  key: 'a', left: 81, right: 887, top: 15, bottom: 465, dmin: 102.8, dmax: 147.6,
  xTitleY: 512, xPad: 8, letter: '(a)', labels: labelsA, crosses: crossesA,
  series: [
    {pts: sumaco, sym: 'circle', fill: '#ff2222'},
    {pts: antisana, sym: 'square', depth: 133},
    {pts: chacana, sym: 'triangle', depth: 133}
  ],
  legendBox: [[666, 15], [887, 15], [887, 143], [666, 143]],
  legend: [
    {sym: 'circle', sx: 697, tx: 717, y: 36, text: 'Sumaco'},
    {sym: 'square', sx: 697, tx: 717, y: 62, text: 'Antisana'},
    {sym: 'triangle', sx: 696, tx: 717, y: 89, text: 'Chacana'},
    {sym: 'cross', sx: 697, tx: 717, y: 116, text: 'All other volcanoes'}
  ],
  cbar: {box: [624, 351, 880, 459], bar: [641, 865, 386, 431], ticks: depthTicksA, labelY: 446, titleX: 748, titleY: 371}
});

drawPanel({
  key: 'b', left: 82.5, right: 888.5, top: 544, bottom: 993.3, dmin: 78.6, dmax: 235.8,
  xTitleY: 1032, xPad: 8, letter: '(b)', labels: labelsB, crosses: crossesB,
  series: [
    {pts: lascar, sym: 'triangle', depth: 160, hollow: true},
    {pts: sanPedro, sym: 'triangleDown', depth: 148, hollow: true},
    {pts: antofagasta, sym: 'square', depth: 150},
    {pts: parinacota, sym: 'diamond', depth: 150},
    {pts: quimsachata, sym: 'triangle', depth: 175},
    {pts: lagunaJayu, sym: 'circle', depth: 212}
  ],
  legendBox: [[380, 544], [888.5, 544], [888.5, 691], [652, 691], [652, 600], [380, 600]],
  legend: [
    {sym: 'square', sx: 398.5, tx: 421, y: 556, text: 'Antofagasta Volcanic Field'},
    {sym: 'circle', sx: 399, tx: 421, y: 585, text: 'Laguna Jayu Khota'},
    {sym: 'diamond', sx: 675, tx: 698, y: 556, text: 'Parinacota'},
    {sym: 'triangle', sx: 677, tx: 698, y: 587, text: 'Lascar', hollow: true},
    {sym: 'triangle', sx: 677, tx: 698, y: 616, text: 'Quimsachata'},
    {sym: 'triangleDown', sx: 677, tx: 696, y: 647, text: 'San Pedro–San Pablo', hollow: true},
    {sym: 'cross', sx: 678, tx: 698, y: 676, text: 'All other volcanoes'}
  ],
  cbar: {box: [624, 880, 880, 988], bar: [643, 867, 914, 959], ticks: depthTicksB, labelY: 972, titleX: 748, titleY: 899}
});

drawPanel({
  key: 'c', left: 81, right: 887, top: 1069.8, bottom: 1519.8, dmin: 81.9, dmax: 220.6,
  xTitleY: 1566, xPad: 6, letter: '(c)', labels: labelsC, crosses: crossesC,
  series: [
    {pts: craterBasalt, sym: 'square', fill: '#8c8c8c'},
    {pts: payunMatru, sym: 'circle', fill: '#ff3300'},
    {pts: lagunaBlanca, sym: 'triangle', depth: 205}
  ],
  legendBox: [[575, 1069.8], [887, 1069.8], [887, 1194.6], [685.7, 1194.6], [685.7, 1144], [575, 1144]],
  legend: [
    {sym: 'square', sx: 604, tx: 623, y: 1083.6, text: 'Crater Basalt Volcanic Field'},
    {sym: 'circle', sx: 605, tx: 623, y: 1107, text: 'Payun Matru'},
    {sym: 'triangle', sx: 605, tx: 623, y: 1130.7, text: 'Laguna Blanca'},
    {sym: 'cross', sx: 703, tx: 723, y: 1173.6, text: 'All other volcanoes'}
  ],
  cbar: {box: [574, 1402, 881, 1509], bar: [589, 811, 1435, 1480], noSlab: 867, ticks: depthTicksC, labelY: 1491, titleX: 701, titleY: 1421}
});
</script>
</body>
</html>
